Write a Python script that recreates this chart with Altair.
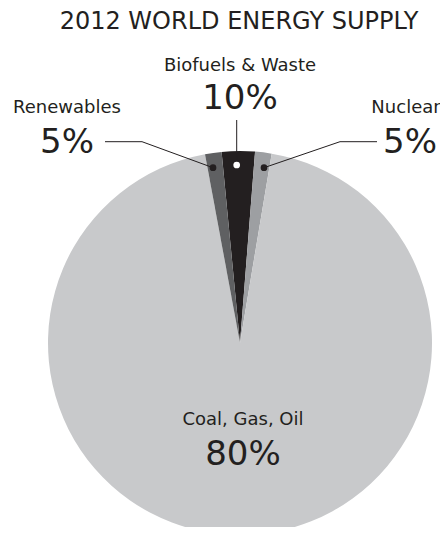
import math
import altair as alt
import pandas as pd

# Slice data (drawn as degrees of the circle, as in the original graphic)
categories = ["Biofuels & Waste", "Nuclear", "Coal, Gas, Oil", "Renewables"]
degrees = [10, 5, 340, 5]
colors = ["#231f20", "#9d9fa2", "#c8c9cb", "#5f6062"]
order = [1, 2, 3, 4]

label_names = ["Biofuels & Waste", "Renewables", "Nuclear", "Coal, Gas, Oil"]
label_pcts = ["10%", "5%", "5%", "80%"]

FONT = "DejaVu Sans"
INK = "#231f20"
CX, CY, R = 232, 335, 192
START = -5.5 * math.pi / 180

slices = pd.DataFrame({"cat": categories, "deg": degrees, "ord": order})

pie = alt.Chart(slices).mark_arc(outerRadius=R).encode(
    theta=alt.Theta("deg:Q", stack=True,
                    scale=alt.Scale(type="linear", domain=[0, 360],
                                    range=[START, START + 2 * math.pi])),
    color=alt.Color("cat:N", scale=alt.Scale(domain=categories, range=colors), legend=None),
    order=alt.Order("ord:Q"),
    x=alt.value(CX), y=alt.value(CY),
)

# Annotation layout (pixels)
names = pd.DataFrame({
    "t": label_names,
    "x": [232, 59, 398, 235],
    "y": [63, 105, 105, 417],
})
pcts = pd.DataFrame({
    "t": label_pcts,
    "x": [232, 59, 402, 235],
    "y": [101, 145, 145, 457],
})

X = lambda f: alt.X(f, scale=None, axis=None)
Y = lambda f: alt.Y(f, scale=None, axis=None)

name_text = alt.Chart(names).mark_text(font=FONT, fontSize=18, color=INK, baseline="alphabetic").encode(
    x=X("x:Q"), y=Y("y:Q"), text="t:N")
pct_text = alt.Chart(pcts).mark_text(font=FONT, fontSize=34, color=INK, baseline="alphabetic").encode(
    x=X("x:Q"), y=Y("y:Q"), text="t:N")

title = alt.Chart(pd.DataFrame({"t": ["2012 WORLD ENERGY SUPPLY"]})).mark_text(
    font=FONT, fontSize=24, color=INK, baseline="alphabetic").encode(
    x=alt.value(231), y=alt.value(21), text="t:N")

leaders = pd.DataFrame({
    "g": ["r", "r", "r", "b", "b", "n", "n", "n"],
    "i": [0, 1, 2, 0, 1, 0, 1, 2],
    "x": [97, 134, 205, 228.7, 228.7, 256, 332, 369],
    "y": [133.7, 133.7, 159.7, 112, 157, 159.7, 133.7, 133.7],
})
lines = alt.Chart(leaders).mark_line(color=INK, strokeWidth=1).encode(
    x=X("x:Q"), y=Y("y:Q"), detail="g:N", order="i:Q")

dots = pd.DataFrame({"x": [205, 256, 228.7], "y": [159.7, 159.7, 157], "c": [INK, INK, "#ffffff"]})
dot_marks = alt.Chart(dots).mark_circle(size=45, opacity=1).encode(
    x=X("x:Q"), y=Y("y:Q"), color=alt.Color("c:N", scale=None))

chart = alt.layer(pie, lines, dot_marks, name_text, pct_text, title).properties(
    width=432, height=519, padding=0, autosize=alt.AutoSizeParams(type="none"),
    view=alt.ViewBackground(strokeWidth=0, strokeOpacity=0),
).configure_view(strokeWidth=0, strokeOpacity=0).configure_axis(
    domain=False, ticks=False, labels=False, grid=False
).configure(background="#ffffff")

chart.save("out.html", embed_options={"renderer": "svg", "actions": False})
